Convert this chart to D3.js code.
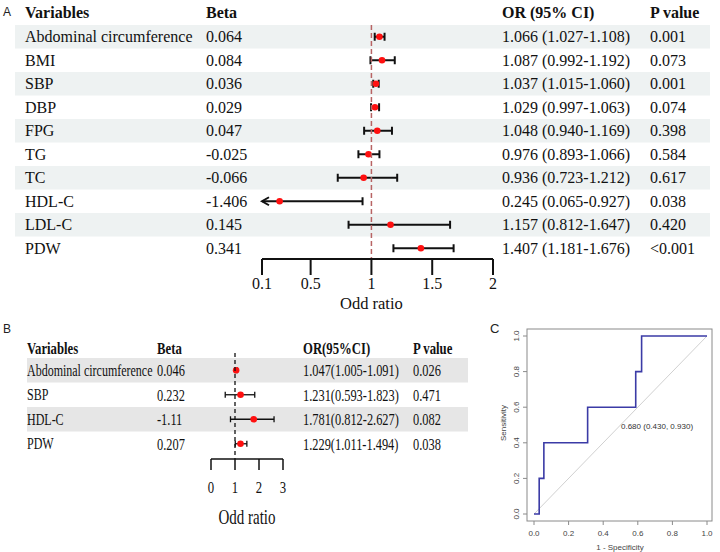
<!DOCTYPE html>
<html>
<head>
<meta charset="utf-8">
<script src="https://cdn.jsdelivr.net/npm/d3@7"></script>
<style>
  body { margin: 0; background: #fff; }
  svg { display: block; }
</style>
</head>
<body>
<div id="chart"></div>
<script>
// Panel A: univariate logistic regression
const varsA = ['Abdominal circumference', 'BMI', 'SBP', 'DBP', 'FPG', 'TG', 'TC', 'HDL-C', 'LDL-C', 'PDW'];
const betaA = ['0.064', '0.084', '0.036', '0.029', '0.047', '-0.025', '-0.066', '-1.406', '0.145', '0.341'];
const orA = [1.066, 1.087, 1.037, 1.029, 1.048, 0.976, 0.936, 0.245, 1.157, 1.407];
const loA = [1.027, 0.992, 1.015, 0.997, 0.940, 0.893, 0.723, 0.065, 0.812, 1.181];
const hiA = [1.108, 1.192, 1.060, 1.063, 1.169, 1.066, 1.212, 0.927, 1.647, 1.676];
const pA = ['0.001', '0.073', '0.001', '0.074', '0.398', '0.584', '0.617', '0.038', '0.420', '<0.001'];
const ticksA = [0.1, 0.5, 1, 1.5, 2];

// Panel B: multivariate logistic regression
const varsB = ['Abdominal circumference', 'SBP', 'HDL-C', 'PDW'];
const betaB = ['0.046', '0.232', '-1.11', '0.207'];
const orB = [1.047, 1.231, 1.781, 1.229];
const loB = [1.005, 0.593, 0.812, 1.011];
const hiB = [1.091, 1.823, 2.627, 1.494];
const pB = ['0.026', '0.471', '0.082', '0.038'];
const ticksB = [0, 1, 2, 3];

// Panel C: ROC curve (1 - specificity, sensitivity)
const rocFpr = [0, 0.03, 0.03, 0.057, 0.057, 0.31, 0.31, 0.588, 0.588, 0.622, 0.622, 1];
const rocTpr = [0, 0, 0.2, 0.2, 0.4, 0.4, 0.6, 0.6, 0.8, 0.8, 1, 1];
const ticksC = [0, 0.2, 0.4, 0.6, 0.8, 1];
const rocLabel = '0.680 (0.430, 0.930)';

const serif = '"Liberation Serif", "Times New Roman", serif';
const sans = '"Liberation Sans", Arial, sans-serif';

const svg = d3.select('#chart').append('svg')
  .attr('width', 720).attr('height', 552)
  .attr('viewBox', [0, 0, 720, 552]);

function panelLabel(txt, x, y, size) {
  svg.append('text').attr('x', x).attr('y', y)
    .attr('font-family', sans).attr('font-size', size).attr('fill', '#222')
    .text(txt);
}

// ---------- Panel A ----------
panelLabel('A', 3, 16, 12);
const gA = svg.append('g');
const xA = d3.scaleLinear().domain([0.1, 2]).range([262, 493]);
const yA = d3.scaleBand().domain(varsA).range([25, 260]);
const colA = { v: 25, beta: 206, or: 502, p: 650 };

gA.selectAll('rect.band')
  .data(varsA.filter((d, i) => i % 2 === 0))
  .join('rect')
  .attr('x', 15).attr('width', 695)
  .attr('y', d => yA(d)).attr('height', yA.bandwidth())
  .attr('fill', '#eef2f2');

const headA = [['Variables', colA.v], ['Beta', colA.beta], ['OR (95% CI)', colA.or], ['P value', colA.p]];
gA.selectAll('text.head')
  .data(headA)
  .join('text')
  .attr('x', d => d[1]).attr('y', 12).attr('dy', '0.35em')
  .attr('font-family', serif).attr('font-size', 16).attr('font-weight', 'bold')
  .attr('fill', '#111')
  .text(d => d[0]);

const rowsA = varsA.map((v, i) => ({ v, beta: betaA[i], or: orA[i], lo: loA[i], hi: hiA[i], p: pA[i] }));
const rowA = gA.selectAll('g.row').data(rowsA).join('g')
  .attr('transform', d => `translate(0,${yA(d.v) + yA.bandwidth() / 2})`);

rowA.append('text').attr('x', colA.v).text(d => d.v);
rowA.append('text').attr('x', colA.beta).text(d => d.beta);
rowA.append('text').attr('x', colA.or)
  .text(d => `${d.or.toFixed(3)} (${d.lo.toFixed(3)}-${d.hi.toFixed(3)})`);
rowA.append('text').attr('x', colA.p).text(d => d.p);
rowA.selectAll('text')
  .attr('dy', '0.35em').attr('font-family', serif).attr('font-size', 16).attr('fill', '#111');

// reference line at OR = 1
gA.append('line')
  .attr('x1', xA(1)).attr('x2', xA(1)).attr('y1', 25).attr('y2', 259)
  .attr('stroke', '#b86464').attr('stroke-width', 1.5).attr('stroke-dasharray', '5,3');

const minA = xA.domain()[0];
rowA.append('line')
  .attr('x1', d => xA(Math.max(d.lo, minA))).attr('x2', d => xA(d.hi))
  .attr('stroke', '#111').attr('stroke-width', 2);
rowA.append('line')
  .attr('x1', d => xA(d.hi)).attr('x2', d => xA(d.hi)).attr('y1', -4).attr('y2', 4)
  .attr('stroke', '#111').attr('stroke-width', 2);
rowA.filter(d => d.lo >= minA).append('line')
  .attr('x1', d => xA(d.lo)).attr('x2', d => xA(d.lo)).attr('y1', -4).attr('y2', 4)
  .attr('stroke', '#111').attr('stroke-width', 2);
rowA.filter(d => d.lo < minA).append('path')
  .attr('d', `M${xA(minA) + 7},-4 L${xA(minA)},0 L${xA(minA) + 7},4`)
  .attr('fill', 'none').attr('stroke', '#111').attr('stroke-width', 2);
rowA.append('circle')
  .attr('cx', d => xA(d.or)).attr('r', 3.3).attr('fill', '#ff1010');

// axis A
const axA = gA.append('g').attr('transform', 'translate(0,259)');
axA.append('line').attr('x1', xA(ticksA[0])).attr('x2', xA(ticksA[ticksA.length - 1]))
  .attr('stroke', '#111').attr('stroke-width', 2);
axA.selectAll('line.tick').data(ticksA).join('line')
  .attr('x1', d => xA(d)).attr('x2', d => xA(d)).attr('y1', 0).attr('y2', 16)
  .attr('stroke', '#111').attr('stroke-width', 2);
axA.selectAll('text').data(ticksA).join('text')
  .attr('x', d => xA(d)).attr('y', 24).attr('dy', '0.35em')
  .attr('text-anchor', 'middle').attr('font-family', serif).attr('font-size', 16).attr('fill', '#111')
  .text(d => d);
gA.append('text').attr('x', xA(1)).attr('y', 303).attr('dy', '0.35em')
  .attr('text-anchor', 'middle').attr('font-family', serif).attr('font-size', 16.5).attr('fill', '#111')
  .text('Odd ratio');

// ---------- Panel B ----------
panelLabel('B', 3, 333, 12);
const gB = svg.append('g');
const xB = d3.scaleLinear().domain([0, 3]).range([211, 283]);
const yB = d3.scaleBand().domain(varsB).range([358, 456]);
const colB = { v: 27, beta: 157, or: 303, p: 413 };
const squeeze = 0.75;

function condensed(sel, x, size) {
  return sel.attr('transform', function (d) {
    return `translate(${typeof x === 'function' ? x(d) : x},0) scale(${squeeze},1)`;
  })
    .attr('dy', '0.35em').attr('font-family', serif).attr('font-size', size).attr('fill', '#111');
}

gB.selectAll('rect.band')
  .data(varsB.filter((d, i) => i % 2 === 0))
  .join('rect')
  .attr('x', 27).attr('width', 441)
  .attr('y', d => yB(d)).attr('height', yB.bandwidth())
  .attr('fill', '#e6e6e6');

const headB = [['Variables', colB.v], ['Beta', colB.beta], ['OR(95%CI)', colB.or], ['P value', colB.p]];
const hB = gB.append('g').attr('transform', 'translate(0,348)');
hB.selectAll('text').data(headB).join('text')
  .text(d => d[0])
  .call(s => condensed(s, d => d[1], 17))
  .attr('font-weight', 'bold');

const rowsB = varsB.map((v, i) => ({ v, beta: betaB[i], or: orB[i], lo: loB[i], hi: hiB[i], p: pB[i] }));
const rowB = gB.selectAll('g.row').data(rowsB).join('g')
  .attr('transform', d => `translate(0,${yB(d.v) + yB.bandwidth() / 2})`);
rowB.append('text').text(d => d.v).call(s => condensed(s, colB.v, 16));
rowB.append('text').text(d => d.beta).call(s => condensed(s, colB.beta, 16.5));
rowB.append('text').text(d => `${d.or.toFixed(3)}(${d.lo.toFixed(3)}-${d.hi.toFixed(3)})`)
  .call(s => condensed(s, colB.or, 16.5));
rowB.append('text').text(d => d.p).call(s => condensed(s, colB.p, 16.5));

gB.append('line')
  .attr('x1', xB(1)).attr('x2', xB(1)).attr('y1', 353).attr('y2', 459)
  .attr('stroke', '#111').attr('stroke-width', 1.3).attr('stroke-dasharray', '4,3');

rowB.append('line')
  .attr('x1', d => xB(d.lo)).attr('x2', d => xB(d.hi))
  .attr('stroke', '#111').attr('stroke-width', 1.3);
rowB.selectAll('line.cap')
  .data(d => [d.lo, d.hi]).join('line')
  .attr('x1', d => xB(d)).attr('x2', d => xB(d)).attr('y1', -3).attr('y2', 3)
  .attr('stroke', '#111').attr('stroke-width', 1.3);
rowB.append('circle')
  .attr('cx', d => xB(d.or)).attr('r', 3.3).attr('fill', '#ff1010');

const axB = gB.append('g').attr('transform', 'translate(0,459)');
axB.append('line').attr('x1', xB(ticksB[0])).attr('x2', xB(ticksB[ticksB.length - 1]))
  .attr('stroke', '#111').attr('stroke-width', 1.5);
axB.selectAll('line.tick').data(ticksB).join('line')
  .attr('x1', d => xB(d)).attr('x2', d => xB(d)).attr('y1', 0).attr('y2', 11)
  .attr('stroke', '#111').attr('stroke-width', 1.5);
const axBLab = axB.append('g').attr('transform', 'translate(0,28)');
axBLab.selectAll('text').data(ticksB).join('text')
  .text(d => d)
  .call(s => condensed(s, d => xB(d), 17))
  .attr('text-anchor', 'middle');
gB.append('g').attr('transform', 'translate(0,517)')
  .append('text').text('Odd ratio')
  .call(s => condensed(s, 247, 20))
  .attr('text-anchor', 'middle');

// ---------- Panel C ----------
panelLabel('C', 490, 333, 13);
const gC = svg.append('g');
const xC = d3.scaleLinear().domain([0, 1]).range([534, 707]);
const yC = d3.scaleLinear().domain([0, 1]).range([514, 336]);

gC.append('rect')
  .attr('x', 527).attr('y', 329).attr('width', 185).attr('height', 192)
  .attr('fill', 'none').attr('stroke', '#8a8a8a').attr('stroke-width', 1);

gC.append('line')
  .attr('x1', xC(0)).attr('y1', yC(0)).attr('x2', xC(1)).attr('y2', yC(1))
  .attr('stroke', '#d0d0d0').attr('stroke-width', 1);

const rocPts = rocFpr.map((f, i) => [f, rocTpr[i]]);
gC.append('path')
  .datum(rocPts)
  .attr('d', d3.line().x(d => xC(d[0])).y(d => yC(d[1])))
  .attr('fill', 'none').attr('stroke', '#3b3ba6').attr('stroke-width', 1.6);

gC.append('text').attr('x', 621).attr('y', 426).attr('dy', '0.35em')
  .attr('font-family', sans).attr('font-size', 8).attr('fill', '#333')
  .text(rocLabel);

const fmtC = d3.format('.1f');
gC.selectAll('line.xt').data(ticksC).join('line')
  .attr('x1', d => xC(d)).attr('x2', d => xC(d)).attr('y1', 521).attr('y2', 525)
  .attr('stroke', '#8a8a8a');
gC.selectAll('text.xt').data(ticksC).join('text')
  .attr('x', d => xC(d)).attr('y', 533).attr('dy', '0.35em')
  .attr('text-anchor', 'middle').attr('font-family', sans).attr('font-size', 8).attr('fill', '#444')
  .text(d => fmtC(d));
gC.selectAll('line.yt').data(ticksC).join('line')
  .attr('x1', 523).attr('x2', 527).attr('y1', d => yC(d)).attr('y2', d => yC(d))
  .attr('stroke', '#8a8a8a');
gC.selectAll('text.yt').data(ticksC).join('text')
  .attr('transform', d => `translate(516,${yC(d)}) rotate(-90)`)
  .attr('dy', '0.35em')
  .attr('text-anchor', 'middle').attr('font-family', sans).attr('font-size', 8).attr('fill', '#444')
  .text(d => fmtC(d));

gC.append('text').attr('x', 620).attr('y', 547).attr('dy', '0.35em')
  .attr('text-anchor', 'middle').attr('font-family', sans).attr('font-size', 8).attr('fill', '#444')
  .text('1 - Specificity');
gC.append('text').attr('transform', 'translate(503,423) rotate(-90)').attr('dy', '0.35em')
  .attr('text-anchor', 'middle').attr('font-family', sans).attr('font-size', 8).attr('fill', '#444')
  .text('Sensitivity');
</script>
</body>
</html>
